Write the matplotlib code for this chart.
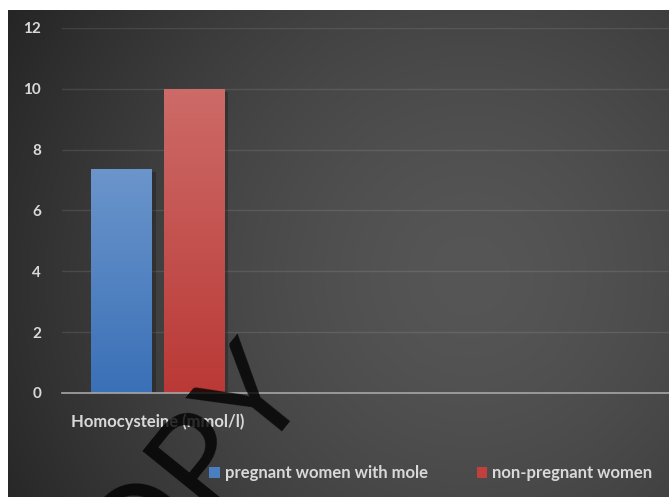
import numpy as np
import matplotlib
matplotlib.use("Agg")
from matplotlib import pyplot as plt
from matplotlib import patheffects as pe
from matplotlib.patches import Patch

plt.rcParams['font.family'] = ['Lato', 'DejaVu Sans']

categories = ["Homocysteine (mmol/l)"]
series_names = ["pregnant women with mole", "non-pregnant women"]
series_values = [[7.35], [10.0]]
yticks = [0, 2, 4, 6, 8, 10, 12]

top_colors = ["#6b95cb", "#cd6b68"]
bottom_colors = ["#3a70b7", "#ba3936"]
text_color = "#d9d9d9"

W, H = 669, 497
fig = plt.figure(figsize=(W / 100, H / 100), dpi=100, facecolor="white")

# dark radial backdrop, white margin on top and left
bg = fig.add_axes([0, 0, 1, 1])
bg.set_axis_off()
yy, xx = np.mgrid[0:H, 0:W]
d = np.hypot(xx - 470, yy - 275) / 539.0
v = (86 - 50 * np.clip(d, 0, 1.2) ** 1.5) / 255.0
img = np.dstack([v, v, v])
img[(xx < 8) | (yy < 10)] = 1.0
bg.imshow(img, extent=[0, 1, 0, 1], aspect="auto", origin="upper", zorder=0)
bg.set_xlim(0, 1)
bg.set_ylim(0, 1)

ax = fig.add_axes([62 / W, 1 - 393 / H, 1 - 62 / W, (393 - 28) / H])
ax.set_facecolor("none")

x = np.arange(len(categories))
width = 0.3
offsets = [-0.18, 0.18]
for i, name in enumerate(series_names):
    bars = ax.bar(x + offsets[i], series_values[i], width, color=bottom_colors[i],
                  label=name, zorder=3, linewidth=0,
                  path_effects=[pe.SimplePatchShadow(offset=(3, -2), shadow_rgbFace="black", alpha=0.22),
                                pe.Normal()])
    grad = np.linspace(0, 1, 256)[:, None]
    c0 = np.array(matplotlib.colors.to_rgb(top_colors[i]))
    c1 = np.array(matplotlib.colors.to_rgb(bottom_colors[i]))
    fill = c0[None, None, :] * (1 - grad[..., None]) + c1[None, None, :] * grad[..., None]
    for b in bars:
        x0, y0 = b.get_x(), b.get_y()
        im = ax.imshow(fill, extent=[x0, x0 + b.get_width(), y0, y0 + b.get_height()],
                       aspect="auto", origin="upper", zorder=4)
        im.set_clip_path(b)

ax.set_xlim(-0.472, 2.528)
ax.set_ylim(0, 12)
ax.set_yticks(yticks)
ax.set_yticklabels([str(t) for t in yticks], fontsize=11, fontweight="bold", color=text_color)
ax.set_xticks(x)
ax.set_xticklabels(categories, fontsize=12, fontweight="bold", color=text_color)
ax.tick_params(axis="y", length=0, pad=15)
ax.tick_params(axis="x", length=0, pad=15)
ax.grid(axis="y", color="white", alpha=0.1, linewidth=1, zorder=1)
ax.set_axisbelow(True)
for s in ["top", "right", "left"]:
    ax.spines[s].set_visible(False)
ax.spines["bottom"].set_color("#a6a6a6")
ax.spines["bottom"].set_linewidth(1.2)
ax.spines["bottom"].set_zorder(5)

handles = [Patch(facecolor=c, edgecolor="none") for c in ["#4a7ec0", "#c0403d"]]
leg = fig.legend(handles, series_names, loc="center", bbox_to_anchor=(431 / W, 1 - 473 / H),
                 ncol=2, frameon=False, handlelength=0.65, handleheight=0.65, handletextpad=0.3,
                 columnspacing=2.9, prop={"size": 12, "weight": "bold"})
for t in leg.get_texts():
    t.set_color(text_color)

# stamp across the lower left
fig.text(169 / W, 1 - 504 / H, "COPY", fontsize=96, color="black", alpha=0.8,
         rotation=51, rotation_mode="anchor", ha="center", va="center",
         family="Lato", zorder=10)

fig.savefig("out.png", dpi=100, facecolor=fig.get_facecolor())
